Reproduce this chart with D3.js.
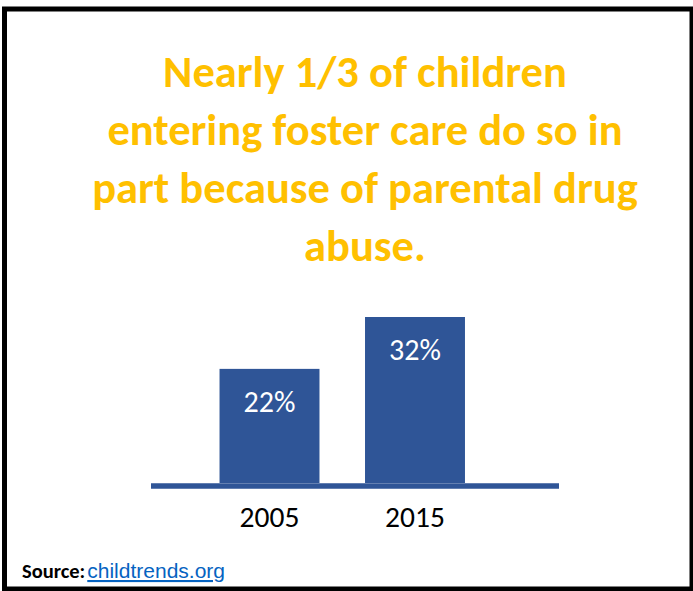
<!DOCTYPE html>
<html>
<head>
<meta charset="utf-8">
<script src="https://cdn.jsdelivr.net/npm/d3@7"></script>
<style>
  body { margin: 0; background: #fff; }
  svg { display: block; font-family: Carlito, Calibri, Lato, sans-serif; }
  .x-axis .domain { display: none; }
</style>
</head>
<body>
<svg width="693" height="591"></svg>
<script>
const years = ["2005", "2015"]
const shares = [22, 32]
const titleLines = [
    "Nearly 1/3 of children",
    "entering foster care do so in",
    "part because of parental drug",
    "abuse."
]

const svg = d3.select("svg")

// black frame around the whole card
svg.append("rect")
    .attr("x", 4.5)
    .attr("y", 9)
    .attr("width", 687.5)
    .attr("height", 580)
    .attr("fill", "#fff")
    .attr("stroke", "#000")
    .attr("stroke-width", 5)

const title = svg.append("text")
    .attr("class", "title")
    .attr("text-anchor", "middle")
    .attr("fill", "#FFC000")
    .style("font-weight", "bold")
    .style("font-size", "44.5px")

title.selectAll("tspan")
    .data(titleLines)
    .enter()
    .append("tspan")
    .attr("x", 365)
    .attr("y", (d, i) => 87 + i * 58)
    .text(d => d)

const scaleX = d3.scaleBand()
    .domain(years)
    .range([151, 533.5])
    .paddingInner(0.313)
    .paddingOuter(0.471)

const scaleY = d3.scaleLinear()
    .domain([0, d3.max(shares)])
    .range([483, 317])

const bars = svg.selectAll("g.bar")
    .data(shares)
    .enter()
    .append("g")
    .attr("class", "bar")

bars.append("rect")
    .attr("x", (d, i) => scaleX(years[i]))
    .attr("y", d => scaleY(d))
    .attr("width", scaleX.bandwidth())
    .attr("height", d => scaleY(0) - scaleY(d))
    .attr("fill", "#2F5597")

bars.append("text")
    .attr("x", (d, i) => scaleX(years[i]) + scaleX.bandwidth() / 2)
    .attr("y", d => scaleY(d) + 43)
    .attr("text-anchor", "middle")
    .attr("fill", "#fff")
    .style("font-size", "30px")
    .text(d => d + "%")

// baseline runs past the bars on both sides
svg.append("line")
    .attr("x1", 151)
    .attr("x2", 559)
    .attr("y1", scaleY(0) + 3)
    .attr("y2", scaleY(0) + 3)
    .attr("stroke", "#2F5597")
    .attr("stroke-width", 5.5)

const axisX = d3.axisBottom(scaleX)
    .tickSize(0)
    .tickPadding(23)

const axisGroup = svg.append("g")
    .attr("class", "x-axis")
    .attr("transform", `translate(0,${scaleY(0)})`)
    .call(axisX)

axisGroup.selectAll("text")
    .style("font-family", "Carlito, Calibri, Lato, sans-serif")
    .style("font-size", "29.5px")
    .attr("fill", "#000")

const source = svg.append("text")
    .attr("x", 22)
    .attr("y", 578)

source.append("tspan")
    .style("font-weight", "bold")
    .style("font-size", "20.5px")
    .attr("fill", "#000")
    .text("Source:")

source.append("tspan")
    .attr("dx", 2)
    .style("font-family", "'Liberation Sans', Arial, sans-serif")
    .style("font-size", "21px")
    .attr("fill", "#0563C1")
    .attr("text-decoration", "underline")
    .text("childtrends.org")
</script>
</body>
</html>
